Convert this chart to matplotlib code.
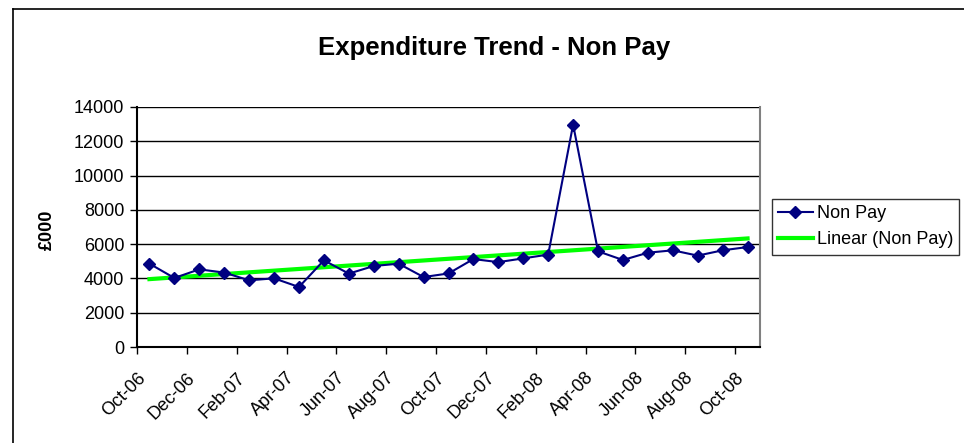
import matplotlib.pyplot as plt
import numpy as np
from matplotlib.lines import Line2D

plt.rcParams['font.family'] = ['Liberation Sans', 'DejaVu Sans']

# monthly non pay spend, Oct-06 .. Oct-08 (£000)
months = ["Oct-06", "Nov-06", "Dec-06", "Jan-07", "Feb-07", "Mar-07", "Apr-07",
          "May-07", "Jun-07", "Jul-07", "Aug-07", "Sep-07", "Oct-07", "Nov-07",
          "Dec-07", "Jan-08", "Feb-08", "Mar-08", "Apr-08", "May-08", "Jun-08",
          "Jul-08", "Aug-08", "Sep-08", "Oct-08"]
non_pay = [4860, 4025, 4530, 4340, 3890, 4005, 3500, 5055, 4280, 4725, 4860, 4080,
           4290, 5130, 4950, 5170, 5390, 12970, 5580, 5075, 5500, 5640, 5330, 5640, 5830]
tick_labels = months[::2]

fig = plt.figure(figsize=(9.64, 4.43), dpi=100)
ax = fig.add_axes([0.1421, 0.2167, 0.6463, 0.5418])

x = np.arange(len(non_pay)) + 0.5
ax.plot(x, non_pay, color="#000080", linewidth=1.5, marker="D", markersize=6.5,
        label="Non Pay", zorder=4)

k, b = np.polyfit(x, non_pay, 1)
ax.plot([x[0], x[-1]], [k * x[0] + b, k * x[-1] + b], color="#00ff00",
        linewidth=3, label="Linear (Non Pay)", zorder=3)

ax.set_xlim(0, len(non_pay))
ax.set_ylim(0, 14000)
ax.set_yticks(np.arange(0, 14001, 2000))
ax.set_xticks(np.arange(0, len(non_pay), 2))
ax.set_xticklabels(tick_labels, rotation=45, ha="right", rotation_mode="anchor")
ax.tick_params(axis="both", direction="out", length=5, width=1, labelsize=13)
ax.tick_params(axis="y", pad=4)
ax.tick_params(axis="x", pad=11)
ax.grid(True, axis="y", color="black", linewidth=1)
ax.set_axisbelow(True)

ax.spines["top"].set_visible(False)
ax.spines["right"].set_color("#808080")
ax.spines["right"].set_linewidth(1.5)
ax.spines["left"].set_linewidth(1.5)
ax.spines["bottom"].set_linewidth(1.5)

ax.set_ylabel("£000", fontsize=13, fontweight="bold")
ax.yaxis.set_label_coords(-0.13, 0.49)
fig.text(0.5125, 1 - 55 / 443, "Expenditure Trend - Non Pay", fontsize=18.5,
         fontweight="bold", ha="center", va="baseline")

leg = ax.legend(loc="upper left", bbox_to_anchor=(0.8008, 0.5508),
                bbox_transform=fig.transFigure, fontsize=13, fancybox=False,
                borderaxespad=0, handlelength=1.9, handletextpad=0.22,
                borderpad=0.35, labelspacing=0.5)
leg.get_frame().set_edgecolor("black")
leg.get_frame().set_linewidth(1)

# chart area border (cropped at right and bottom)
fig.add_artist(Line2D([0.0135, 0.0135], [0, 0.9797], color="black", linewidth=1.2))
fig.add_artist(Line2D([0.0135, 1], [0.9797, 0.9797], color="black", linewidth=1.2))

plt.savefig("out.png")
